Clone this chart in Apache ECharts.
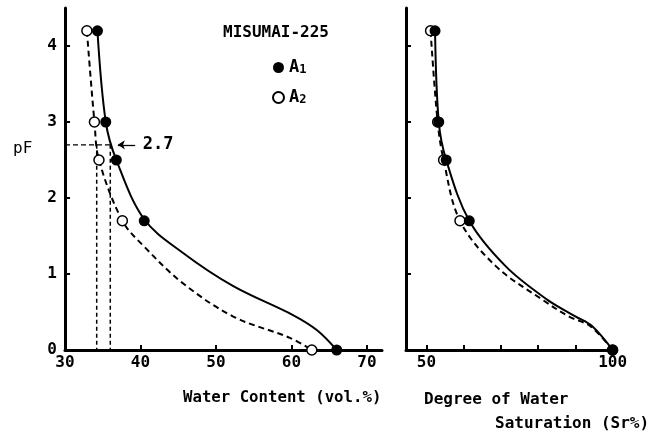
<!DOCTYPE html>
<html><head><meta charset="utf-8">
<script src="https://cdn.jsdelivr.net/npm/echarts@6/dist/echarts.min.js"></script>
<style>html,body{margin:0;padding:0;background:#fff}#c{width:653px;height:434px}</style>
</head><body><div id="c"></div>
<script>
// measured pF levels
const pF = [4.2, 3.0, 2.5, 1.7, 0];
// water content (vol.%) at measured pF
const waterA1 = [34.3, 35.4, 36.8, 40.5, 66.0];
const waterA2 = [32.9, 33.9, 34.5, 37.6, 62.7];
// degree of water saturation (Sr%) at measured pF
const satA1 = [52.3, 53.3, 55.3, 61.5, 100];
const satA2 = [51.1, 53.0, 54.6, 59.0, 100];
// curve traces [x, pF]
const curveWaterA1 = [[34.3,4.2],[35.4,3.0],[36.8,2.5],[40.5,1.72],[45.6,1.28],[52.3,0.84],[60.2,0.46],[63.4,0.26],[66.0,0]];
const curveWaterA2 = [[32.9,4.2],[33.9,3.0],[34.5,2.5],[37.6,1.7],[40.4,1.37],[45.6,0.88],[52.3,0.44],[59.8,0.16],[62.7,0]];
const curveSatA1 = [[52.3,4.2],[53.3,3.0],[55.3,2.5],[61.5,1.7],[71.3,1.1],[82.5,0.66],[90.1,0.44],[94.6,0.31],[100,0]];
const curveSatA2 = [[51.1,4.2],[53.0,3.0],[54.6,2.5],[59.0,1.7],[68.7,1.1],[81.2,0.66],[88.3,0.44],[94.1,0.31],[100,0]];
// pF 2.7 reference
const refPF = 2.7;
const refWaterA1 = 36.0;
const refWaterA2 = 34.2;
const refArrowFrom = 39.3;
const refArrowTo = 37.0;
const refLabel = '2.7';
// ticks
const leftXTicks = [40, 50, 60, 70];
const leftXLabels = [30, 40, 50, 60, 70];
const yTicks = [1, 2, 3, 4];
const yLabels = [0, 1, 2, 3, 4];
const rightXTicks = [50, 60, 70, 80, 90, 100];
const rightXLabels = [50, 100];

const FONT = 'DejaVu Sans Mono';
const txt = {fontFamily: FONT, fontSize: 16, color: '#000', fontWeight: 'bold'};
const zip = (xs, ys) => xs.map((x, i) => [x, ys[i]]);

const axisLine = {show: true, onZero: false, lineStyle: {color: '#000', width: 3}};
const tick = (vals) => ({show: true, inside: true, length: 5, lineStyle: {color: '#000', width: 2}, customValues: vals});

const chart = echarts.init(document.getElementById('c'), null, {renderer: 'canvas'});
chart.setOption({
  animation: false,
  backgroundColor: '#fff',
  title: [
    {text: 'MISUMAI-225', left: 218, top: 20, textStyle: Object.assign({}, txt)},
    {text: 'pF', left: 8, top: 136, textStyle: Object.assign({}, txt, {fontWeight: 'normal'})},
    {text: 'Water Content (vol.%)', left: 178, top: 385, textStyle: Object.assign({}, txt, {fontSize: 15.7})},
    {text: 'Degree of Water', left: 419, top: 387, textStyle: Object.assign({}, txt)},
    {text: 'Saturation (Sr%)', left: 490, top: 411, textStyle: Object.assign({}, txt)}
  ],
  legend: {
    data: ['A1', 'A2'], orient: 'vertical', left: 267, top: 54,
    itemWidth: 11, itemHeight: 11, itemGap: 13, icon: 'circle',
    formatter: n => '{a|A}{s|' + n.slice(1) + '}',
    textStyle: {rich: {a: Object.assign({}, txt, {fontSize: 17}), s: Object.assign({}, txt, {fontSize: 12, padding: [5, 0, 0, 0]})}}
  },
  grid: [
    {left: 65, top: 8, width: 317, height: 342},
    {left: 406, top: 8, width: 208.5, height: 342}
  ],
  xAxis: [
    {gridIndex: 0, type: 'value', min: 30, max: 72, splitLine: {show: false}, axisLine,
     axisTick: tick(leftXTicks), axisLabel: Object.assign({margin: 5, customValues: leftXLabels}, txt)},
    {gridIndex: 1, type: 'value', min: 44.5, max: 100.5, splitLine: {show: false}, axisLine,
     axisTick: tick(rightXTicks), axisLabel: Object.assign({margin: 5, customValues: rightXLabels}, txt)}
  ],
  yAxis: [
    {gridIndex: 0, type: 'value', min: 0, max: 4.5, splitLine: {show: false}, axisLine,
     axisTick: tick(yTicks), axisLabel: Object.assign({margin: 8, customValues: yLabels}, txt)},
    {gridIndex: 1, type: 'value', min: 0, max: 4.5, splitLine: {show: false}, axisLine,
     axisTick: tick(yTicks), axisLabel: {show: false}}
  ],
  series: [
    {name: 'cA1', type: 'line', xAxisIndex: 0, yAxisIndex: 0, data: curveWaterA1, smooth: 0.35, showSymbol: false,
     lineStyle: {color: '#000', width: 2}, z: 3},
    {name: 'cA2', type: 'line', xAxisIndex: 0, yAxisIndex: 0, data: curveWaterA2, smooth: 0.35, showSymbol: false,
     lineStyle: {color: '#000', width: 2, type: [6, 4]}, z: 3},
    {name: 'sA1', type: 'line', xAxisIndex: 1, yAxisIndex: 1, data: curveSatA1, smooth: 0.35, showSymbol: false,
     lineStyle: {color: '#000', width: 2}, z: 3},
    {name: 'sA2', type: 'line', xAxisIndex: 1, yAxisIndex: 1, data: curveSatA2, smooth: 0.35, showSymbol: false,
     lineStyle: {color: '#000', width: 2, type: [6, 4]}, z: 3},
    {name: 'ref', type: 'line', xAxisIndex: 0, yAxisIndex: 0, showSymbol: false,
     data: [[30, refPF], [refWaterA1, refPF]], lineStyle: {color: '#000', width: 1.3, type: [5, 3]}, z: 2},
    {name: 'ref1', type: 'line', xAxisIndex: 0, yAxisIndex: 0, showSymbol: false,
     data: [[refWaterA1, refPF], [refWaterA1, 0]], lineStyle: {color: '#000', width: 1.5, type: [4, 3]}, z: 2},
    {name: 'ref2', type: 'line', xAxisIndex: 0, yAxisIndex: 0, showSymbol: false,
     data: [[refWaterA2, refPF], [refWaterA2, 0]], lineStyle: {color: '#000', width: 1.5, type: [4, 3]}, z: 2},
    {name: 'refArrow', type: 'scatter', xAxisIndex: 0, yAxisIndex: 0, symbol: 'circle', symbolSize: 1,
     itemStyle: {color: 'rgba(0,0,0,0)', opacity: 1},
     data: [[refArrowFrom, refPF]],
     label: {show: true, position: 'right', distance: 7, formatter: refLabel, fontFamily: FONT, fontSize: 17,
       color: '#000', opacity: 1, fontWeight: 'bold'},
     markLine: {silent: true, symbol: ['none', 'arrow'], symbolSize: [7, 7], label: {show: false},
       lineStyle: {color: '#000', width: 1.3, type: 'solid', opacity: 1},
       data: [[{coord: [refArrowFrom, refPF]}, {coord: [refArrowTo, refPF]}]]}},
    {name: 'A1', type: 'scatter', xAxisIndex: 0, yAxisIndex: 0, data: zip(waterA1, pF), symbolSize: 11,
     itemStyle: {color: '#000', opacity: 1}, z: 5},
    {name: 'A2', type: 'scatter', xAxisIndex: 0, yAxisIndex: 0, data: zip(waterA2, pF), symbolSize: 10,
     itemStyle: {color: '#fff', borderColor: '#000', borderWidth: 1.5, opacity: 1}, z: 5},
    {name: 'A2', type: 'scatter', xAxisIndex: 1, yAxisIndex: 1, data: zip(satA2, pF), symbolSize: 10,
     itemStyle: {color: '#fff', borderColor: '#000', borderWidth: 1.5, opacity: 1}, z: 5},
    {name: 'A1', type: 'scatter', xAxisIndex: 1, yAxisIndex: 1, data: zip(satA1, pF), symbolSize: 11,
     itemStyle: {color: '#000', opacity: 1}, z: 6}
  ]
});
</script></body></html>
